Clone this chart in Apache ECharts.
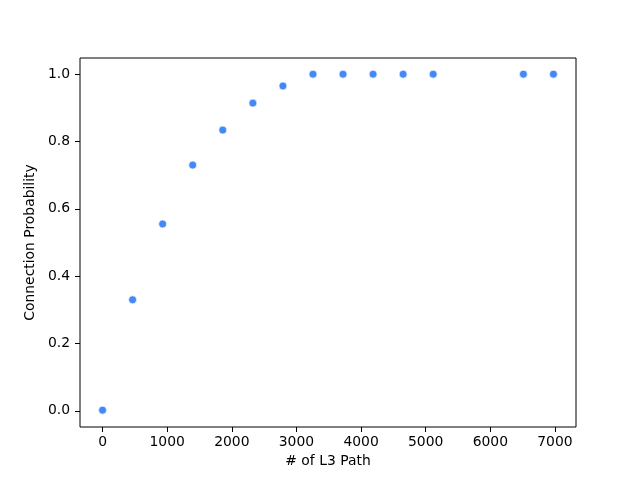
<!DOCTYPE html>
<html>
<head>
<meta charset="utf-8">
<script src="https://cdn.jsdelivr.net/npm/echarts@6/dist/echarts.min.js"></script>
<style>html,body{margin:0;padding:0;background:#fff}#c{width:640px;height:480px}</style>
</head>
<body>
<div id="c"></div>
<script>
var pathCounts = [0, 465, 930, 1395, 1860, 2326, 2791, 3256, 3721, 4186, 4651, 5116, 6512, 6977];
var probabilities = [0.002, 0.330, 0.555, 0.730, 0.834, 0.914, 0.965, 1.0, 1.0, 1.0, 1.0, 1.0, 1.0, 1.0];
var xTicks = [0, 1000, 2000, 3000, 4000, 5000, 6000, 7000];
var yTicks = [0, 0.2, 0.4, 0.6, 0.8, 1.0];

var points = pathCounts.map(function (x, i) { return [x, probabilities[i]]; });
var font = 'DejaVu Sans';
var chart = echarts.init(document.getElementById('c'), null, {renderer: 'canvas'});
chart.setOption({
  animation: false,
  backgroundColor: '#fff',
  grid: {left: 80, right: 64, top: 58, bottom: 53, show: true, borderColor: '#000', borderWidth: 1, backgroundColor: 'transparent'},
  xAxis: {
    type: 'value', min: -349, max: 7326,
    name: '# of L3 Path', nameLocation: 'middle', nameGap: 26,
    nameTextStyle: {fontFamily: font, fontSize: 13.9, color: '#000'},
    axisLine: {show: false, onZero: false},
    splitLine: {show: false},
    axisTick: {show: true, inside: false, length: 5, lineStyle: {color: '#000', width: 1}, customValues: xTicks},
    axisLabel: {margin: 8, fontFamily: font, fontSize: 13.9, color: '#000', customValues: xTicks,
      formatter: function (v) { return String(v); }}
  },
  yAxis: {
    type: 'value', min: -0.048, max: 1.048,
    name: 'Connection Probability', nameLocation: 'middle', nameGap: 35,
    nameTextStyle: {fontFamily: font, fontSize: 13.9, color: '#000'},
    axisLine: {show: false, onZero: false},
    splitLine: {show: false},
    axisTick: {show: true, inside: false, length: 5, lineStyle: {color: '#000', width: 1}, customValues: yTicks},
    axisLabel: {margin: 10, fontFamily: font, fontSize: 13.9, color: '#000', customValues: yTicks,
      formatter: function (v) { return v.toFixed(1); }}
  },
  series: [{
    type: 'scatter',
    data: points,
    symbol: 'circle',
    symbolSize: 8,
    itemStyle: {color: '#4488f5', borderColor: '#fff', borderWidth: 0.7, opacity: 1}
  }]
});
</script>
</body>
</html>
